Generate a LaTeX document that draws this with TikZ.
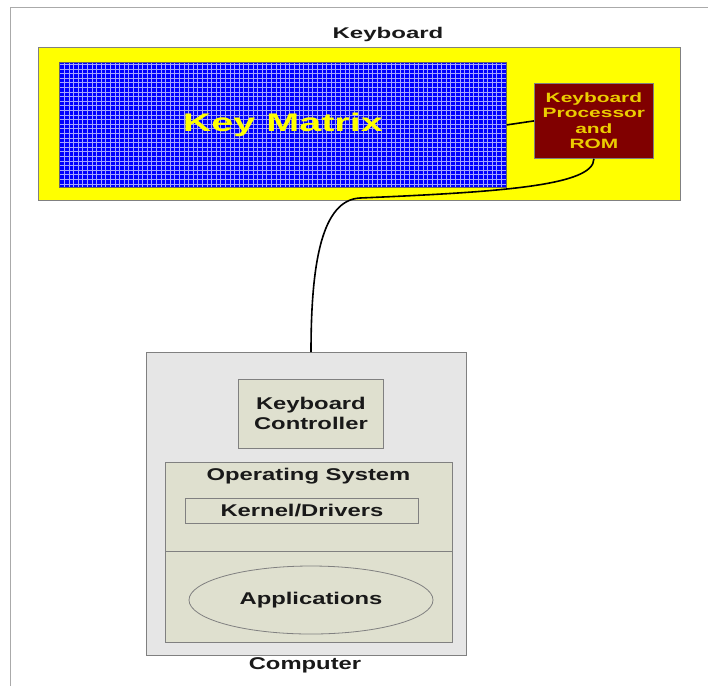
\documentclass[tikz,border=0pt]{standalone}
\usepackage{fontspec}
\setmainfont{Liberation Sans}
\newfontfamily\kbwide[FakeStretch=1.55]{Liberation Sans}
\newfontfamily\pcwide[FakeStretch=1.4]{Liberation Sans}
\usetikzlibrary{shapes.geometric}
\definecolor{kbyellow}{RGB}{255,255,0}
\definecolor{kbblue}{RGB}{0,0,255}
\definecolor{kbgrid}{RGB}{165,165,255}
\definecolor{kbmaroon}{RGB}{128,0,0}
\definecolor{kbgold}{RGB}{235,205,0}
\definecolor{pcgray}{RGB}{230,230,230}
\definecolor{pcinner}{RGB}{223,224,207}
\definecolor{edgegray}{RGB}{128,128,128}
\definecolor{txtdark}{RGB}{25,25,25}
\definecolor{framegray}{RGB}{170,170,170}
\begin{document}
\begin{tikzpicture}[x=1pt,y=-1pt,
  box/.style={draw=edgegray, line width=0.8pt, inner sep=0pt, anchor=north west},
  pctext/.style={font=\pcwide\bfseries\fontsize{17}{20}\selectfont, text=txtdark, align=center, inner sep=0pt},
  kbtext/.style={font=\kbwide\bfseries\fontsize{15.5}{18}\selectfont, text=txtdark, inner sep=0pt},
  wire/.style={draw=black, line width=1.6pt}]
\useasboundingbox (0,0) rectangle (708,686);
\fill[white] (0,0) rectangle (708,686);
\draw[framegray, line width=1pt] (10,686) -- (10,7) -- (708,7);

% keyboard
\node[kbtext] (kbtitle) at (388,34) {Keyboard};
\node[box, fill=kbyellow, minimum width=642pt, minimum height=153pt] (kb) at (38,47) {};
\node[box, fill=kbblue, draw=black!60, minimum width=447pt, minimum height=125pt] (km) at (59,62) {};
\begin{scope}
  \clip (km.north west) rectangle (km.south east);
  \draw[kbgrid, line width=0.9pt, step=4.6pt] (km.north west) grid (km.south east);
\end{scope}
\draw[black!60, line width=0.8pt] (km.north west) rectangle (km.south east);
\node[font=\kbwide\bfseries\fontsize{25.5}{28}\selectfont, text=kbyellow, inner sep=0pt] (kmlabel) at (km.center) {Key Matrix};
\node[box, fill=kbmaroon, draw=black!50, minimum width=119pt, minimum height=75pt, align=center, text=kbgold,
  font=\kbwide\bfseries\fontsize{13.5}{15.5}\selectfont] (proc) at (534,83) {Keyboard\\Processor\\and\\ROM};

% computer
\node[box, fill=pcgray, minimum width=320pt, minimum height=303pt] (pc) at (146,352) {};
\node[pctext] (pclabel) at (305,665) {Computer};
\node[box, fill=pcinner, minimum width=145pt, minimum height=69pt, pctext, anchor=north west] (ctrl) at (238,379) {Keyboard\\Controller};
\node[box, fill=pcinner, minimum width=287pt, minimum height=89pt] (os) at (165,462) {};
\node[box, fill=pcinner, minimum width=287pt, minimum height=91pt] (appsarea) at (165,551) {};
\node[pctext] (ostitle) at (308.5,476) {Operating System};
\node[box, fill=pcinner, minimum width=233pt, minimum height=25pt, pctext, anchor=north west] (kernel) at (185,498) {Kernel/Drivers};
\node[ellipse, draw=edgegray, line width=0.8pt, fill=pcinner, minimum width=244pt, minimum height=68pt, pctext] (apps) at (311,600) {Applications};

% connectors
\coordinate (bend) at (360,198);
\coordinate (pcin) at (311,352);
\draw[wire] (km.east) -- (proc.west);
\draw[wire] (proc.south) .. controls +(0,27) and (500,192) .. (bend) .. controls (322,200) and (311,262) .. (pcin);
\end{tikzpicture}
\end{document}
